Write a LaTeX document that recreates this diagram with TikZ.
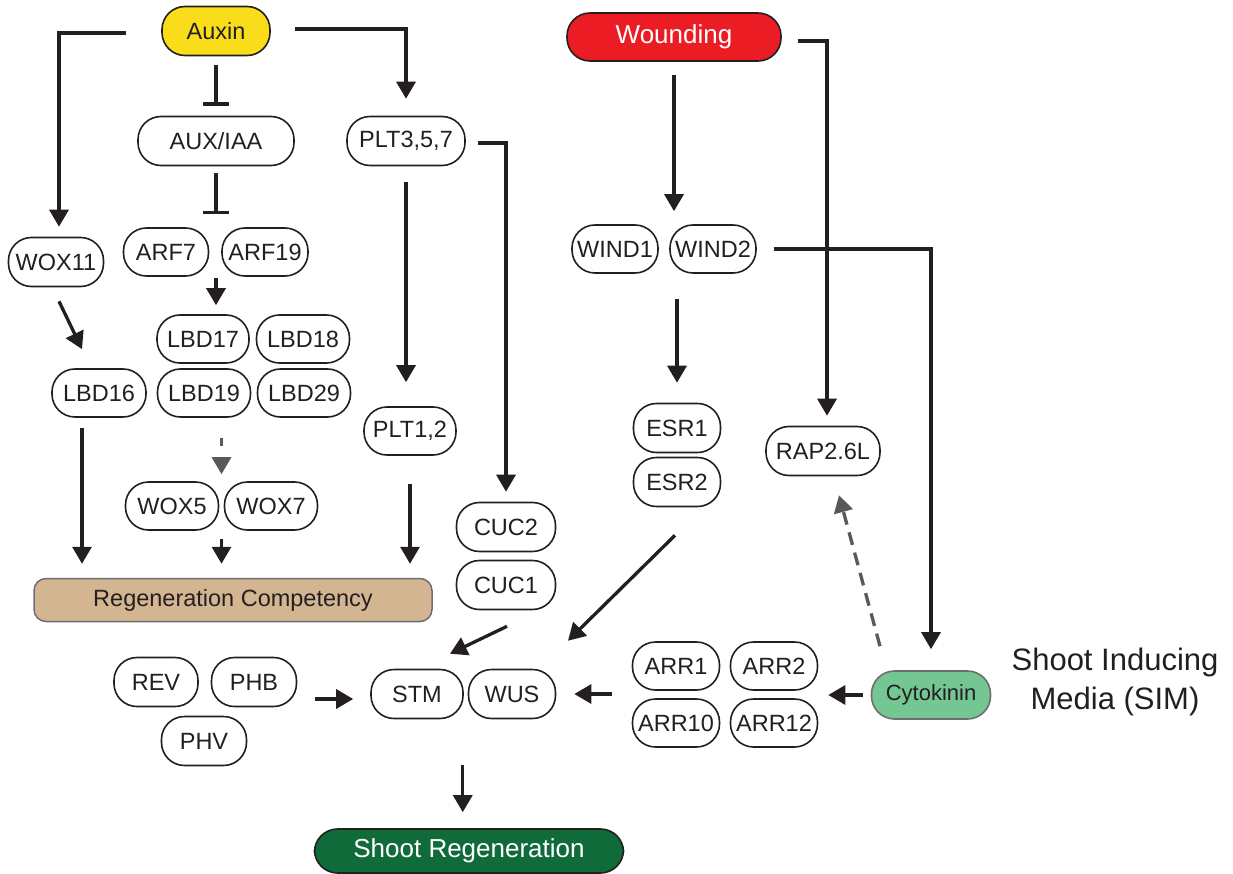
\documentclass[tikz,border=0pt]{standalone}
\usepackage{fontspec}
\setmainfont{Liberation Sans}
\usetikzlibrary{arrows.meta,calc}
\definecolor{ink}{HTML}{231F20}
\definecolor{auxinY}{HTML}{F9DC1A}
\definecolor{woundR}{HTML}{EC1C24}
\definecolor{regT}{HTML}{D3B591}
\definecolor{bgray}{HTML}{6D6E71}
\definecolor{cytoG}{HTML}{74C692}
\definecolor{shootG}{HTML}{106B3A}
\definecolor{dgray}{HTML}{58595B}
\begin{document}
\begin{tikzpicture}[x=1pt,y=-1pt,
  pill/.style={draw=ink, line width=1.6pt, rounded corners=23pt, minimum height=48pt, inner sep=0pt, text=ink, font=\fontsize{23.5}{27}\selectfont},
  arr/.style={draw=ink, line width=3.3pt, -{Triangle[width=19pt,length=17pt]}},
  inh/.style={draw=ink, line width=3.3pt, -{Bar[width=26pt]}},
  darr/.style={draw=dgray, line width=3.3pt, dash pattern=on 8pt off 12pt, -{Triangle[width=19pt,length=17pt]}},
  darrb/.style={draw=dgray, line width=3.3pt, dash pattern=on 13pt off 8pt, -{Triangle[width=19pt,length=17pt]}}
]
\useasboundingbox (0,0) rectangle (1233,874);

% nodes
\node[pill, fill=auxinY, minimum width=108pt, minimum height=49pt] (auxin) at (216,31) {Auxin};
\node[pill, minimum width=156pt, minimum height=49pt] (auxiaa) at (216,141) {AUX/IAA};
\node[pill, minimum width=118pt, minimum height=49pt] (plt357) at (406,141) {PLT3,5,7};
\node[pill, minimum width=95pt, minimum height=49pt] (wox11) at (56,262) {WOX11};
\node[pill, minimum width=85pt] (arf7) at (166,252) {ARF7};
\node[pill, minimum width=86pt] (arf19) at (265,252) {ARF19};
\node[pill, minimum width=92pt] (lbd17) at (203,339) {LBD17};
\node[pill, minimum width=93pt] (lbd18) at (303,339) {LBD18};
\node[pill, minimum width=93pt] (lbd19) at (204,393) {LBD19};
\node[pill, minimum width=93pt] (lbd29) at (304,393) {LBD29};
\node[pill, minimum width=94pt] (lbd16) at (99,393) {LBD16};
\node[pill, minimum width=92pt] (plt12) at (410,431) {PLT1,2};
\node[pill, minimum width=93pt] (wox5) at (172,506) {WOX5};
\node[pill, minimum width=93pt] (wox7) at (271,506) {WOX7};
\node[draw=bgray, line width=1.5pt, fill=regT, rounded corners=12pt, minimum width=398pt, minimum height=43pt, inner sep=0pt, font=\fontsize{23.5}{27}\selectfont, text=ink] (regcomp) at (233,600) {Regeneration Competency};
\node[pill, fill=woundR, text=white, minimum width=214pt, font=\fontsize{26}{30}\selectfont] (wound) at (674,37) {Wounding};
\node[pill, minimum width=86pt] (wind1) at (615,249) {WIND1};
\node[pill, minimum width=86pt] (wind2) at (713,249) {WIND2};
\node[pill, minimum width=87pt, minimum height=49pt] (esr1) at (677,428) {ESR1};
\node[pill, minimum width=87pt, minimum height=49pt] (esr2) at (677,482) {ESR2};
\node[pill, minimum width=114pt, minimum height=49pt] (rap) at (823,451) {RAP2.6L};
\node[pill, minimum width=99pt, minimum height=49pt] (cuc2) at (506,527) {CUC2};
\node[pill, minimum width=99pt, minimum height=49pt] (cuc1) at (506,585) {CUC1};
\node[pill, minimum width=87pt] (arr1) at (676,666) {ARR1};
\node[pill, minimum width=87pt] (arr2) at (774,666) {ARR2};
\node[pill, minimum width=87pt] (arr10) at (676,723) {ARR10};
\node[pill, minimum width=87pt] (arr12) at (774,723) {ARR12};
\node[pill, draw=bgray, fill=cytoG, minimum width=119pt, font=\fontsize{22}{26}\selectfont] (cyto) at (931,695) {Cytokinin};
\node[align=center, font=\fontsize{31}{39}\selectfont, text=ink, inner sep=0pt] (sim) at (1115,682) {Shoot Inducing\\Media (SIM)};
\node[pill, minimum width=84pt, minimum height=49pt] (rev) at (156,682) {REV};
\node[pill, minimum width=85pt, minimum height=49pt] (phb) at (254,682) {PHB};
\node[pill, minimum width=85pt, minimum height=49pt] (phv) at (204,741) {PHV};
\node[pill, minimum width=92pt, minimum height=49pt] (stm) at (417,694) {STM};
\node[pill, minimum width=87pt, minimum height=49pt] (wus) at (512,694) {WUS};
\node[pill, fill=shootG, text=white, minimum width=309pt, minimum height=44pt, font=\fontsize{26}{30}\selectfont] (shoot) at (469,851) {Shoot Regeneration};

% helper coordinates
\coordinate (l16) at ($(lbd16.south)+(-17,0)$);
\coordinate (wmid) at ($(wox5.east)!.5!(wox7.west)$);
\coordinate (revout) at ($(phb.east)+(18,17)$);
\coordinate (smid) at ($(stm.south east)!.5!(wus.south west)+(-3,0)$);

% connectors
\draw[arr, shorten <=35pt, shorten >=10pt] ($(auxin.west)+(0,2)$) -| ($(wox11.north)+(3,0)$);
\draw[arr, shorten <=24pt, shorten >=17pt] ($(auxin.east)+(0,-2)$) -| (plt357.north);
\draw[inh, shorten <=9pt, shorten >=10pt] (auxin.south) -- (auxiaa.north);
\draw[inh, shorten <=7pt, shorten >=13pt] (auxiaa.south) -- (auxiaa.south |- arf7.north);
\draw[arr, shorten <=1pt, shorten >=9pt] (auxiaa.south |- arf7.south) -- (auxiaa.south |- lbd17.north);
\draw[arr] ($(wox11.south)+(3,14)$) -- ($(lbd16.north)+(-17,-19)$);
\draw[arr, shorten <=10pt, shorten >=14pt] (l16) -- (l16 |- regcomp.north);
\draw[darr, shorten <=20pt, shorten >=7pt] (wmid |- lbd19.south) -- (wmid |- wox5.north);
\draw[arr, shorten <=8pt, shorten >=14pt] (wmid |- wox5.south) -- (wmid |- regcomp.north);
\draw[arr, shorten <=16pt, shorten >=24pt] (plt357.south) -- (plt357.south |- plt12.north);
\draw[arr, shorten <=28pt, shorten >=14pt] (plt12.south) -- (plt12.south |- regcomp.north);
\draw[arr, shorten <=12pt, shorten >=10pt] ($(plt357.east)+(0,2)$) -| (cuc2.north);
\draw[arr, shorten <=13pt, shorten >=13pt] (wound.south) -- (wound.south |- wind1.north);
\draw[arr, shorten <=16pt, shorten >=10pt] ($(wound.east)+(0,4)$) -| ($(rap.north)+(4,0)$);
\draw[arr, shorten <=17pt, shorten >=21pt] (wind2.east) -| (cyto.north);
\draw[arr, shorten <=25pt, shorten >=20pt] (esr1.north |- wind1.south) -- (esr1.north);
\draw[arr] ($(esr2.south)+(-2,28)$) -- ($(wus.north)+(56,-28)$);
\draw[arr] ($(cuc1.south)+(1,16)$) -- ($(stm.north)+(33,-15)$);
\draw[arr, shorten >=17pt] (revout) -- (revout -| stm.west);
\draw[arr, shorten <=20pt, shorten >=18pt] (arr1.west |- wus.east) -- (wus.east);
\draw[arr, shorten <=8pt, shorten >=10pt] (cyto.west) -- (arr2.east |- cyto.west);
\draw[darrb] ($(cyto.north)+(-51,-24)$) -- ($(rap.south)+(16,19)$);
\draw[arr, shorten <=46pt, shorten >=16pt] (smid) -- (smid |- shoot.north);
\end{tikzpicture}
\end{document}
